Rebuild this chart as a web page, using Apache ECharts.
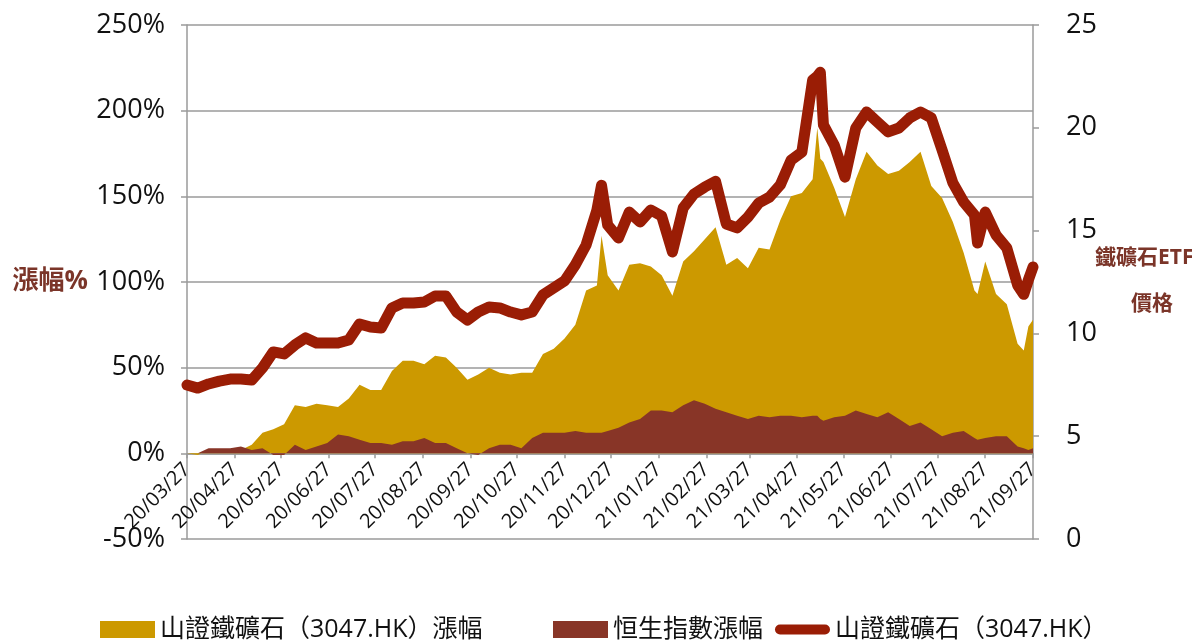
<!DOCTYPE html>
<html>
<head>
<meta charset="utf-8">
<script src="https://cdn.jsdelivr.net/npm/echarts@6/dist/echarts.min.js"></script>
<style>
html,body{margin:0;padding:0;background:#fff;}
#main{width:1192px;height:640px;}
</style>
</head>
<body>
<div id="main"></div>
<script>
// 取樣日期 (yy/mm/dd)
var dates = ['20/03/27','20/04/03','20/04/10','20/04/17','20/04/24','20/05/01','20/05/08','20/05/15','20/05/22','20/05/29',
	'20/06/05','20/06/12','20/06/19','20/06/26','20/07/03','20/07/10','20/07/17','20/07/24','20/07/31','20/08/07',
	'20/08/14','20/08/21','20/08/28','20/09/04','20/09/11','20/09/18','20/09/25','20/10/02','20/10/09','20/10/16',
	'20/10/23','20/10/30','20/11/06','20/11/13','20/11/20','20/11/27','20/12/04','20/12/11','20/12/18','20/12/21',
	'20/12/25','21/01/01','21/01/08','21/01/15','21/01/22','21/01/29','21/02/05','21/02/12','21/02/19','21/02/26',
	'21/03/05','21/03/12','21/03/19','21/03/26','21/04/02','21/04/09','21/04/16','21/04/23','21/04/30','21/05/07',
	'21/05/10','21/05/12','21/05/14','21/05/21','21/05/28','21/06/04','21/06/11','21/06/18','21/06/25','21/07/02',
	'21/07/09','21/07/16','21/07/23','21/07/30','21/08/06','21/08/13','21/08/20','21/08/22','21/08/27','21/09/03',
	'21/09/10','21/09/17','21/09/21','21/09/24','21/09/27'];

// 山證鐵礦石漲幅 %
var etfPct = [0,-1,2,2,1,2,5,12,14,17,
	28,27,29,28,27,32,40,37,37,48,
	54,54,52,57,56,50,43,46,50,47,
	46,47,47,58,61,67,75,95,98,127,
	104,95,110,111,109,104,92,112,118,125,
	132,110,114,108,120,119,136,150,152,160,
	190,172,170,155,138,160,176,168,163,165,
	170,176,156,149,135,117,95,93,112,93,
	87,64,60,74,78];

// 恒生指數漲幅 %
var hsiPct = [0,0,3,3,3,4,2,3,-1,-1,
	5,2,4,6,11,10,8,6,6,5,
	7,7,9,6,6,3,0,-1,3,5,
	5,3,9,12,12,12,13,12,12,12,
	13,15,18,20,25,25,24,28,31,29,
	26,24,22,20,22,21,22,22,21,22,
	22,20,19,21,22,25,23,21,24,20,
	16,18,14,10,12,13,9,8,9,10,
	10,4,3,2,3];

// 山證鐵礦石價格
var etfPrice = [7.49,7.34,7.54,7.68,7.78,7.78,7.73,8.32,9.10,9.00,
	9.44,9.78,9.53,9.53,9.53,9.68,10.46,10.31,10.26,11.24,
	11.48,11.48,11.53,11.82,11.82,11.04,10.65,11.04,11.28,11.24,
	11.04,10.90,11.04,11.87,12.21,12.55,13.33,14.30,16.00,17.20,
	15.27,14.64,15.90,15.42,16.00,15.71,13.96,16.10,16.78,17.12,
	17.40,15.32,15.13,15.66,16.34,16.63,17.22,18.43,18.82,22.32,
	22.50,22.70,20.14,19.16,17.60,19.99,20.77,20.28,19.80,19.99,
	20.48,20.77,20.48,18.92,17.32,16.39,15.76,14.40,15.90,14.79,
	14.15,12.35,11.90,12.60,13.23];

var legendNames = ['山證鐵礦石（3047.HK）漲幅', '恒生指數漲幅', '山證鐵礦石（3047.HK）'];

//每日類目軸
function pad(n) { return n < 10 ? '0' + n : '' + n; }
var cats = [];
for (var t = Date.UTC(2020, 2, 27); t <= Date.UTC(2021, 8, 27); t += 86400000) {
	var d = new Date(t);
	cats.push(String(d.getUTCFullYear()).slice(2) + '/' + pad(d.getUTCMonth() + 1) + '/' + pad(d.getUTCDate()));
}
function toPairs(arr) {
	return dates.map(function (s, i) { return [cats.indexOf(s), arr[i]]; });
}
function isMark(idx, val) { return val.slice(6) === '27'; }

var font = '"Open Sans", "Noto Sans CJK TC", sans-serif';
var gridColor = '#9a9a9a';
var nameColor = '#7b3529';
var lineIcon = 'path://M5,0 L50,0 A5,5 0 0 1 50,10 L5,10 A5,5 0 0 1 5,0 Z';

// x軸放在0%的位置: 繪圖區高514px, 共300%
var plotTop = 25, plotH = 514;
var zeroOffset = -plotH * 50 / 300;

//圖例分三段擺放
function legendAt(left, name, icon) {
	return {
		data: [{ name: name, icon: icon }],
		top: 612,
		left: left,
		itemWidth: 55,
		itemHeight: 17,
		textStyle: { fontSize: 25, color: '#111', fontFamily: font }
	};
}

//右軸名稱
function nameText(left, top, text) {
	return {
		type: 'text',
		left: left,
		top: top,
		style: { text: text, fill: nameColor, font: 'bold 21px ' + font }
	};
}

var chart = echarts.init(document.getElementById('main'));
chart.setOption({
	backgroundColor: '#fff',
	animation: false,
	textStyle: { fontFamily: font },
	grid: {
		left: 187, right: 159, top: plotTop, bottom: 640 - plotTop - plotH,
		containLabel: false, outerBoundsMode: 'none'
	},
	graphic: [
		nameText(1095, 248, '鐵礦石ETF'),
		nameText(1131, 294, '價格')
	],
	legend: [
		legendAt(95, legendNames[0], 'rect'),
		legendAt(548, legendNames[1], 'rect'),
		legendAt(770, legendNames[2], lineIcon)
	],
	xAxis: {
		type: 'category',
		data: cats,
		boundaryGap: false,
		position: 'bottom',
		offset: zeroOffset,
		axisLine: { onZero: false, lineStyle: { color: gridColor, width: 1.5 } },
		axisTick: { show: true, interval: isMark, length: 5, lineStyle: { color: gridColor, width: 1.5 } },
		axisLabel: { interval: isMark, rotate: 45, fontSize: 20, color: '#111', margin: 13 },
		splitLine: { show: false }
	},
	yAxis: [{
		type: 'value',
		min: -50,
		max: 250,
		interval: 50,
		name: '漲幅%',
		nameLocation: 'middle',
		nameRotate: 0,
		nameGap: 99,
		nameTextStyle: { color: nameColor, fontSize: 26, fontWeight: 'bold', align: 'right' },
		axisLine: { show: true, lineStyle: { color: gridColor, width: 1.5 } },
		axisTick: { show: true, length: 6, lineStyle: { color: gridColor, width: 1.5 } },
		axisLabel: { formatter: '{value}%', fontSize: 27, color: '#111', margin: 22 },
		splitLine: { show: true, lineStyle: { color: gridColor, width: 1.5 } }
	}, {
		type: 'value',
		min: 0,
		max: 25,
		interval: 5,
		axisLine: { show: true, lineStyle: { color: gridColor, width: 1.5 } },
		axisTick: { show: true, length: 6, lineStyle: { color: gridColor, width: 1.5 } },
		axisLabel: { fontSize: 27, color: '#111', margin: 33 },
		splitLine: { show: false }
	}],
	series: [{
		name: legendNames[0],
		type: 'line',
		yAxisIndex: 0,
		data: toPairs(etfPct),
		symbol: 'none',
		lineStyle: { width: 0 },
		itemStyle: { color: '#cc9900' },
		areaStyle: { color: '#cc9900', opacity: 1 },
		z: 1
	}, {
		name: legendNames[1],
		type: 'line',
		yAxisIndex: 0,
		data: toPairs(hsiPct),
		symbol: 'none',
		lineStyle: { width: 0 },
		itemStyle: { color: '#883527' },
		areaStyle: { color: '#883527', opacity: 1 },
		z: 2
	}, {
		name: legendNames[2],
		type: 'line',
		yAxisIndex: 1,
		data: toPairs(etfPrice),
		symbol: 'none',
		itemStyle: { color: '#9a1d05' },
		lineStyle: { width: 11, color: '#9a1d05', cap: 'round', join: 'round' },
		z: 3
	}]
});
</script>
</body>
</html>
